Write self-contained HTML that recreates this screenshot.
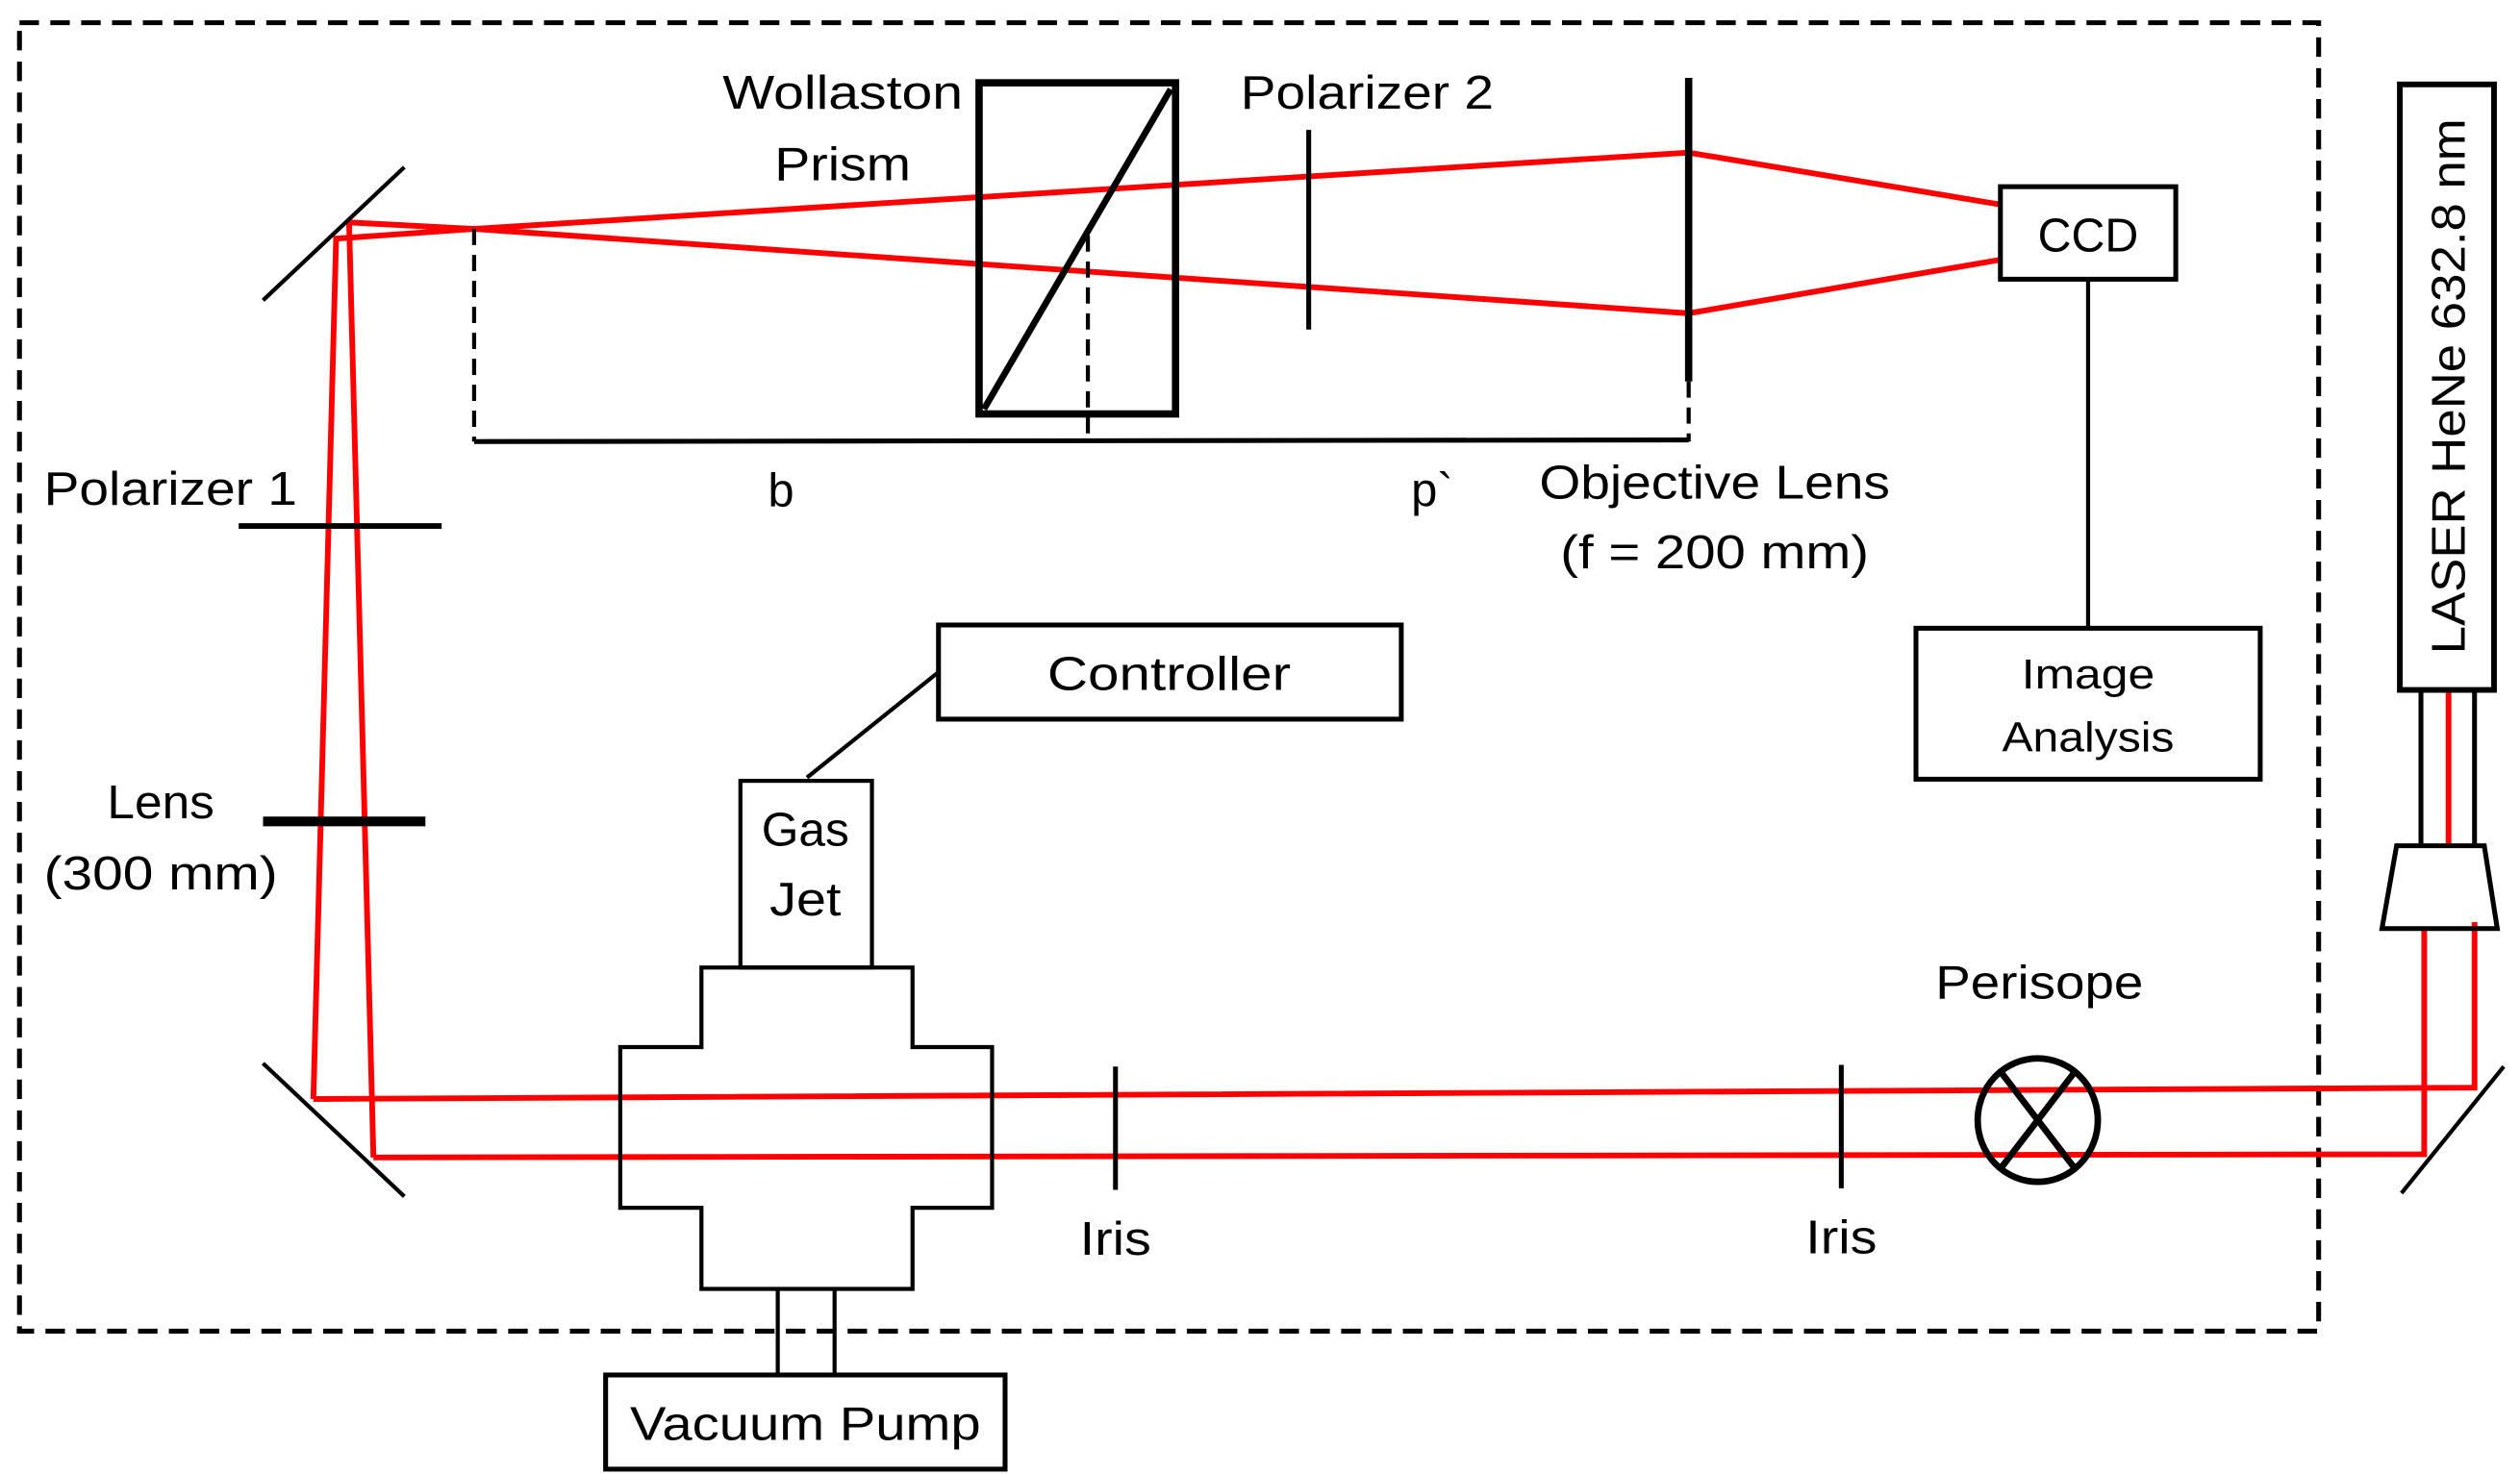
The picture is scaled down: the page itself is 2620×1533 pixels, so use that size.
<!DOCTYPE html>
<html><head><meta charset="utf-8"><style>
html,body{margin:0;padding:0;background:#fff}
svg{display:block}
text{font-family:"Liberation Sans",sans-serif;fill:#000}
</style></head><body>
<svg width="2620" height="1533" viewBox="0 0 1552 908" preserveAspectRatio="none" xmlns="http://www.w3.org/2000/svg">
<rect x="12" y="14" width="1416" height="806" fill="none" stroke="#000" stroke-width="3" stroke-dasharray="12,7"/>
<!-- red beams -->
<g stroke="#f00" stroke-width="3.5" fill="none">
<polyline points="193,677 207,147 292,141"/>
<polyline points="230,713 215,137 292,141"/>
<polyline points="292,141 1040,94 1232,126"/>
<polyline points="292,141 1040,193 1232,160"/>
<polyline points="193,677 1524,670 1524,568"/>
<polyline points="230,713 1493,711 1493,572"/>
<line x1="1508" y1="425" x2="1508" y2="521"/>
</g>
<!-- mirrors -->
<g stroke="#000" stroke-width="2.5">
<line x1="162" y1="185" x2="249" y2="103"/>
<line x1="162" y1="655" x2="249" y2="737"/>
<line x1="1479" y1="735" x2="1542" y2="657"/>
</g>
<!-- dashed measurement -->
<g stroke="#000" stroke-width="2.5" stroke-dasharray="10,6" fill="none">
<line x1="292" y1="141" x2="292" y2="272"/>
<line x1="670" y1="145" x2="670" y2="272"/>
<line x1="1040" y1="235" x2="1040" y2="272"/>
</g>
<line x1="292" y1="272" x2="1040" y2="271" stroke="#000" stroke-width="3"/>
<!-- objective lens -->
<line x1="1040" y1="48" x2="1040" y2="235" stroke="#000" stroke-width="4.5"/>
<!-- wollaston -->
<rect x="603" y="51" width="121" height="204" fill="none" stroke="#000" stroke-width="4.5"/>
<line x1="606" y1="252" x2="721" y2="55" stroke="#000" stroke-width="4"/>
<!-- polarizer 2 -->
<line x1="806" y1="80" x2="806" y2="203" stroke="#000" stroke-width="3"/>
<!-- polarizer 1, lens -->
<line x1="147" y1="324" x2="272" y2="324" stroke="#000" stroke-width="3.5"/>
<line x1="162" y1="506" x2="262" y2="506" stroke="#000" stroke-width="6"/>
<!-- irises -->
<line x1="687" y1="657" x2="687" y2="733" stroke="#000" stroke-width="3"/>
<line x1="1134" y1="656" x2="1134" y2="732" stroke="#000" stroke-width="3"/>
<!-- perisope -->
<ellipse cx="1255" cy="690" rx="37" ry="38" fill="none" stroke="#000" stroke-width="4"/>
<line x1="1232" y1="660" x2="1278" y2="720" stroke="#000" stroke-width="4"/>
<line x1="1278" y1="660" x2="1232" y2="720" stroke="#000" stroke-width="4"/>
<!-- CCD / image analysis -->
<rect x="1232" y="115" width="108" height="57" fill="#fff" stroke="#000" stroke-width="3"/>
<line x1="1286" y1="172" x2="1286" y2="387" stroke="#000" stroke-width="2.5"/>
<rect x="1180" y="387" width="212" height="93" fill="none" stroke="#000" stroke-width="3"/>
<!-- laser -->
<rect x="1478" y="52" width="58" height="373" fill="none" stroke="#000" stroke-width="3.5"/>
<line x1="1491" y1="425" x2="1491" y2="521" stroke="#000" stroke-width="3"/>
<line x1="1524" y1="425" x2="1524" y2="521" stroke="#000" stroke-width="3"/>
<polygon points="1476,521 1530,521 1538,572 1467,572" fill="none" stroke="#000" stroke-width="3"/>
<!-- chamber -->
<polygon points="382,645 432,645 432,596 562,596 562,645 611,645 611,744 562,744 562,794 432,794 432,744 382,744" fill="none" stroke="#000" stroke-width="2.5"/>
<rect x="456" y="481" width="81" height="115" fill="none" stroke="#000" stroke-width="2.5"/>
<line x1="497" y1="479" x2="578" y2="414" stroke="#000" stroke-width="2.5"/>
<rect x="578" y="385" width="285" height="58" fill="none" stroke="#000" stroke-width="3"/>
<line x1="479" y1="794" x2="479" y2="847" stroke="#000" stroke-width="2.5"/>
<line x1="514" y1="794" x2="514" y2="847" stroke="#000" stroke-width="2.5"/>
<rect x="373" y="847" width="246" height="58" fill="none" stroke="#000" stroke-width="3"/>
<!-- labels -->
<g font-size="29" text-anchor="middle">
<text x="519" y="67" textLength="148" lengthAdjust="spacingAndGlyphs">Wollaston</text>
<text x="519" y="111" textLength="84" lengthAdjust="spacingAndGlyphs">Prism</text>
<text x="842" y="67" textLength="156" lengthAdjust="spacingAndGlyphs">Polarizer 2</text>
<text x="481" y="312">b</text>
<text x="882" y="312">p`</text>
<text x="1056" y="307" textLength="216" lengthAdjust="spacingAndGlyphs">Objective Lens</text>
<text x="1056" y="350" textLength="190" lengthAdjust="spacingAndGlyphs">(f = 200 mm)</text>
<text x="1286" y="155" textLength="62" lengthAdjust="spacingAndGlyphs">CCD</text>
<text x="1286" y="424" font-size="26" textLength="82" lengthAdjust="spacingAndGlyphs">Image</text>
<text x="1286" y="463" font-size="26" textLength="106" lengthAdjust="spacingAndGlyphs">Analysis</text>
<text x="105" y="311" textLength="156" lengthAdjust="spacingAndGlyphs">Polarizer 1</text>
<text x="99" y="504" textLength="66" lengthAdjust="spacingAndGlyphs">Lens</text>
<text x="99" y="548" textLength="144" lengthAdjust="spacingAndGlyphs">(300 mm)</text>
<text x="496" y="521" textLength="54" lengthAdjust="spacingAndGlyphs">Gas</text>
<text x="496" y="564" textLength="44" lengthAdjust="spacingAndGlyphs">Jet</text>
<text x="720" y="425" textLength="150" lengthAdjust="spacingAndGlyphs">Controller</text>
<text x="496" y="887" textLength="216" lengthAdjust="spacingAndGlyphs">Vacuum Pump</text>
<text x="687" y="773" textLength="44" lengthAdjust="spacingAndGlyphs">Iris</text>
<text x="1134" y="772" textLength="44" lengthAdjust="spacingAndGlyphs">Iris</text>
<text x="1256" y="615" textLength="128" lengthAdjust="spacingAndGlyphs">Perisope</text>
<text x="0" y="0" transform="translate(1518,238) rotate(-90)" textLength="330" lengthAdjust="spacingAndGlyphs">LASER HeNe 632.8 nm</text>
</g>
</svg>
</body></html>
